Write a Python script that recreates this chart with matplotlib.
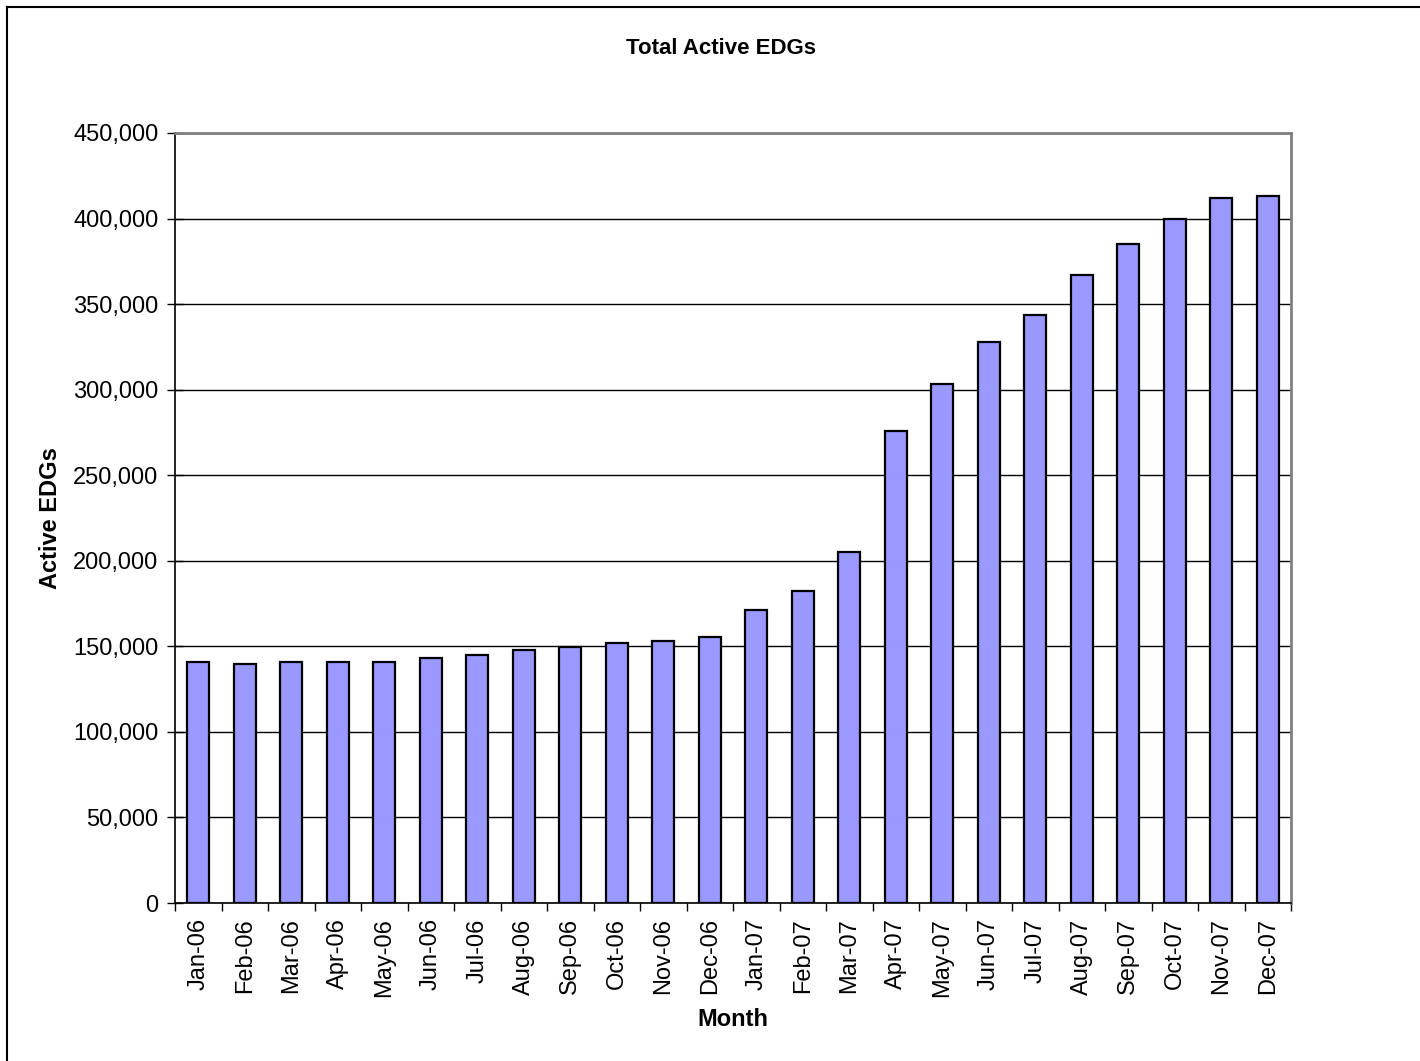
import matplotlib
matplotlib.use("Agg")
import matplotlib.pyplot as plt
from matplotlib.lines import Line2D
from matplotlib.ticker import FuncFormatter, MultipleLocator
import numpy as np

plt.rcParams['font.family'] = ['Liberation Sans', 'DejaVu Sans']

months = ["Jan-06", "Feb-06", "Mar-06", "Apr-06", "May-06", "Jun-06", "Jul-06", "Aug-06",
          "Sep-06", "Oct-06", "Nov-06", "Dec-06", "Jan-07", "Feb-07", "Mar-07", "Apr-07",
          "May-07", "Jun-07", "Jul-07", "Aug-07", "Sep-07", "Oct-07", "Nov-07", "Dec-07"]
active_edgs = [141100, 139900, 141100, 141100, 141100, 143300, 144800, 148100,
               149700, 151800, 153200, 155600, 171400, 182300, 205300, 276000,
               303500, 328000, 343900, 366800, 385400, 400000, 412100, 413400]

W, H = 1420, 1061
fig = plt.figure(figsize=(W / 100, H / 100), dpi=100)
ax = fig.add_axes([175 / W, 1 - 903 / H, (1291 - 175) / W, (903 - 133) / H])

x = np.arange(len(months))
ax.bar(x, active_edgs, width=0.48, color="#9999FF", edgecolor="black", linewidth=1.6, zorder=3)

ax.set_xlim(-0.5, len(months) - 0.5)
ax.set_ylim(0, 450000)
ax.yaxis.set_major_locator(MultipleLocator(50000))
ax.yaxis.set_major_formatter(FuncFormatter(lambda v, p: f"{int(v):,}"))
ax.grid(axis="y", color="black", linewidth=1.0, zorder=0)
ax.set_axisbelow(True)

ax.set_xticks(x)
ax.set_xticklabels(months, rotation=90, fontsize=17)
ax.tick_params(axis="x", which="major", length=0, pad=11)
ax.set_xticks(np.arange(-0.5, len(months), 1.0), minor=True)
ax.tick_params(axis="x", which="minor", length=6, width=1, direction="out", color="black")
ax.tick_params(axis="y", length=12, width=1, direction="inout", labelsize=17, pad=6)

for s in ["left", "bottom"]:
    ax.spines[s].set_color("black")
    ax.spines[s].set_linewidth(1.2)
for s in ["top", "right"]:
    ax.spines[s].set_color("#808080")
    ax.spines[s].set_linewidth(2)

ax.set_xlabel("Month", fontsize=17, fontweight="bold", labelpad=8)
ax.set_ylabel("Active EDGs", fontsize=17, fontweight="bold", labelpad=8)
fig.text(721 / W, 1 - 48 / H, "Total Active EDGs", ha="center", va="center",
         fontsize=16, fontweight="bold")

# chart frame (top and left edges visible)
fig.add_artist(Line2D([7 / W, 1], [1 - 7 / H, 1 - 7 / H], color="black", linewidth=1.5,
                      transform=fig.transFigure))
fig.add_artist(Line2D([7 / W, 7 / W], [0, 1 - 7 / H], color="black", linewidth=1.5,
                      transform=fig.transFigure))

fig.savefig("out.png", dpi=100, facecolor="white")
